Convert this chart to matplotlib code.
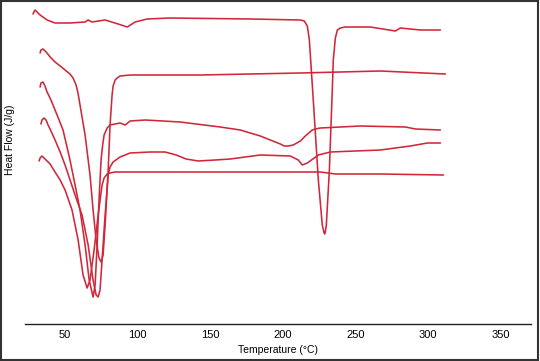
import matplotlib
matplotlib.use("Agg")
import matplotlib.pyplot as plt
from matplotlib.patches import Rectangle

plt.rcParams['font.family'] = ['Liberation Sans', 'DejaVu Sans']

# Temperature (°C) and heat flow (arbitrary units) for each thermogram
t1 = [27.9, 29.3, 32.8, 37.6, 43.1, 53.4, 63.8, 65.9, 68.6, 77.6, 86.6, 92.8, 98.3, 106.6, 122.4,
      177.6, 212.1, 214.8, 216.9, 218.3, 221.0, 224.5, 227.2, 228.3, 228.8, 229.3, 230.0, 232.1,
      234.1, 234.8, 236.2, 237.6, 239.7, 243.1, 260.3, 277.6, 281.0, 294.8, 308.6]
h1 = [316, 320, 315, 310, 307, 307, 308, 310, 308, 310, 306, 303, 308, 311, 312,
      311, 310, 309, 304, 290, 230, 150, 105, 98, 96, 98, 105, 160,
      240, 270, 292, 300, 302, 303, 303, 299, 302, 300, 300]

t2 = [32.8, 33.4, 34.8, 37.0, 39.7, 43.1, 46.6, 50.0, 53.4, 55.5, 57.6, 58.9, 60.3, 63.8, 67.2,
      69.3, 71.4, 73.4, 74.8, 76.2, 77.6, 79.7, 81.0, 82.4, 83.1, 84.5, 85.9, 87.9, 94.8, 143.1,
      212.1, 267.2, 312.0]
h2 = [277, 280, 281, 278, 273, 268, 264, 260, 256, 252, 245, 237, 225, 195, 155,
      120, 90, 72, 68, 75, 105, 160, 205, 235, 244, 250, 252, 254, 255, 255,
      257, 259, 256]

t3 = [32.8, 33.4, 34.8, 36.2, 37.6, 40.3, 43.1, 45.9, 48.6, 50.7, 53.4, 55.5, 57.6, 60.3, 63.8,
      66.6, 69.3, 70.7, 72.1, 73.4, 74.8, 75.9, 76.9, 79.0, 81.0, 87.9, 91.4, 94.8, 105.2, 129.3,
      156.9, 170.7, 184.5, 191.4, 198.3, 201.0, 203.8, 207.2, 212.1, 215.5, 220.3, 222.4, 225.9,
      253.4, 284.5, 291.4, 308.6]
h3 = [243, 247, 248, 244, 238, 230, 220, 210, 200, 187, 170, 155, 140, 120, 85,
      50, 33, 45, 85, 130, 170, 185, 195, 202, 205, 207, 205, 209, 210, 208,
      203, 200, 194, 190, 186, 184, 184, 185, 189, 194, 200, 201, 202,
      204, 203, 201, 200]

t4 = [33.4, 34.1, 35.5, 36.9, 38.3, 40.3, 43.1, 46.6, 50.0, 56.9, 61.7, 65.9, 69.3, 71.4, 72.8,
      74.1, 75.5, 77.6, 79.7, 81.0, 83.1, 87.9, 94.8, 108.6, 118.9, 126.6, 133.4, 141.7, 153.4,
      163.8, 184.5, 205.2, 210.7, 213.4, 216.9, 224.5, 232.8, 267.2, 287.9, 299.7, 308.6]
h4 = [206, 210, 212, 210, 205, 199, 190, 178, 165, 135, 115, 85, 50, 35, 33,
      40, 70, 115, 155, 163, 168, 173, 177, 178, 178, 175, 171, 169, 170,
      171, 175, 174, 170, 165, 167, 175, 178, 180, 184, 187, 187]

t5 = [32.1, 32.8, 34.1, 36.9, 39.7, 43.1, 46.6, 50.0, 54.8, 59.0, 62.4, 65.2, 67.2, 70.0, 72.8,
      75.5, 76.9, 79.0, 81.0, 84.5, 143.1, 198.3, 225.9, 236.2, 267.2, 310.7]
h5 = [169, 172, 174, 170, 166, 158, 150, 140, 120, 90, 55, 42, 50, 80, 115,
      145, 152, 156, 157, 158, 158, 158, 158, 156, 156, 155]

series = [(t1, h1), (t2, h2), (t3, h3), (t4, h4), (t5, h5)]
xticks = [50, 100, 150, 200, 250, 300, 350]

fig = plt.figure(figsize=(5.40, 3.61), dpi=100)
ax = fig.add_axes([25/540, 1 - 324/361, (531 - 25)/540, (324 - 5)/361])

for t, h in series:
    ax.plot(t, h, color='#d0283a', lw=1.15, solid_joinstyle='round', solid_capstyle='round')

ax.set_xlim(22.4, 371)
ax.set_ylim(6, 325)
ax.set_xticks(xticks)
ax.set_xticklabels([str(v) for v in xticks], fontsize=8)
ax.set_yticks([])
ax.tick_params(axis='x', length=0, pad=4)
for s in ['top', 'right', 'left']:
    ax.spines[s].set_visible(False)
ax.spines['bottom'].set_linewidth(1.0)
ax.spines['bottom'].set_color('#222222')

fig.text(278/540, 1 - 350/361, 'Temperature (°C)', ha='center', va='center', fontsize=7.5)
fig.text(10/540, 1 - 140/361, 'Heat Flow (J/g)', ha='center', va='center', rotation=90, fontsize=7.5)

fig.patches.append(Rectangle((0.002, 0.003), 0.995, 0.994, transform=fig.transFigure,
                             fill=False, edgecolor='#333333', lw=1.5))

fig.savefig('out.png', dpi=100)
